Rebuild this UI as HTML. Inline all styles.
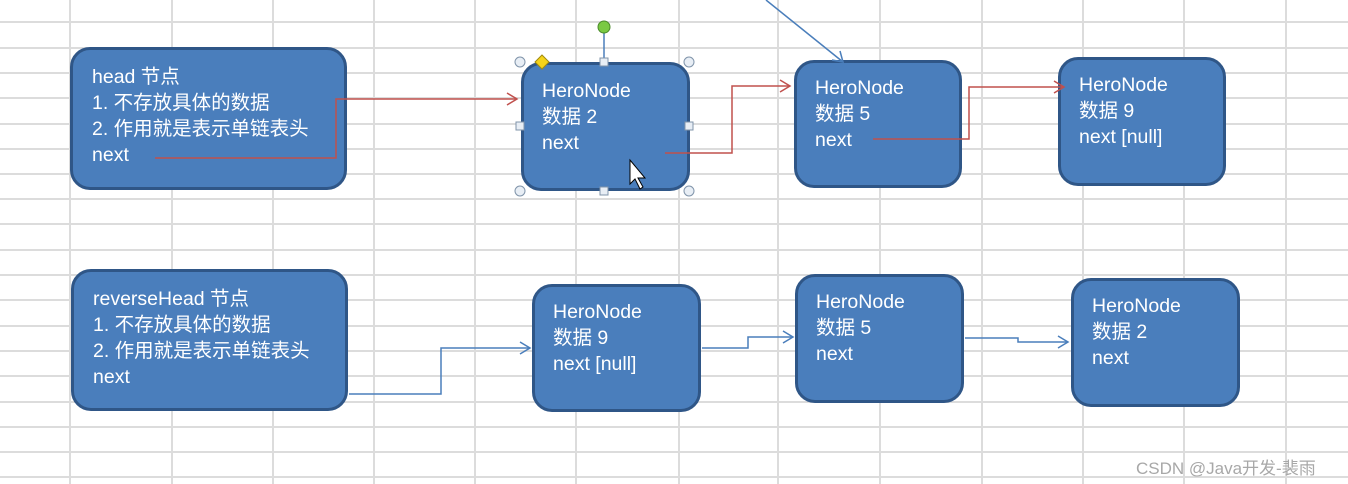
<!DOCTYPE html>
<html><head><meta charset="utf-8"><style>
html,body{margin:0;padding:0;background:#fff;}
body{width:1348px;height:484px;position:relative;overflow:hidden;font-family:"Liberation Sans","Noto Sans CJK SC",sans-serif;}
.box{position:absolute;background:#4a7ebc;border:3px solid #2f5687;border-radius:20px;box-sizing:border-box;color:#fff;font-size:19.5px;line-height:26px;}
.wm{position:absolute;left:1136px;top:454px;color:#a8a8a8;font-size:17px;}
</style></head><body>
<svg width="1348" height="484" style="position:absolute;left:0;top:0">
<g stroke="#dcdcdc" stroke-width="2">
<line x1="70" y1="0" x2="70" y2="484"/><line x1="172" y1="0" x2="172" y2="484"/><line x1="273" y1="0" x2="273" y2="484"/><line x1="374" y1="0" x2="374" y2="484"/><line x1="475" y1="0" x2="475" y2="484"/><line x1="576" y1="0" x2="576" y2="484"/><line x1="679" y1="0" x2="679" y2="484"/><line x1="778" y1="0" x2="778" y2="484"/><line x1="880" y1="0" x2="880" y2="484"/><line x1="982" y1="0" x2="982" y2="484"/><line x1="1083" y1="0" x2="1083" y2="484"/><line x1="1184" y1="0" x2="1184" y2="484"/><line x1="1286" y1="0" x2="1286" y2="484"/>
<line x1="0" y1="22" x2="1348" y2="22"/><line x1="0" y1="48" x2="1348" y2="48"/><line x1="0" y1="73" x2="1348" y2="73"/><line x1="0" y1="98" x2="1348" y2="98"/><line x1="0" y1="124" x2="1348" y2="124"/><line x1="0" y1="149" x2="1348" y2="149"/><line x1="0" y1="174" x2="1348" y2="174"/><line x1="0" y1="199" x2="1348" y2="199"/><line x1="0" y1="224" x2="1348" y2="224"/><line x1="0" y1="250" x2="1348" y2="250"/><line x1="0" y1="275" x2="1348" y2="275"/><line x1="0" y1="300" x2="1348" y2="300"/><line x1="0" y1="326" x2="1348" y2="326"/><line x1="0" y1="351" x2="1348" y2="351"/><line x1="0" y1="376" x2="1348" y2="376"/><line x1="0" y1="402" x2="1348" y2="402"/><line x1="0" y1="427" x2="1348" y2="427"/><line x1="0" y1="452" x2="1348" y2="452"/><line x1="0" y1="477" x2="1348" y2="477"/>
</g>
</svg>
<div class="box" style="left:70px;top:47px;width:277px;height:143px;padding:14px 0 0 19px">head 节点<br>1. 不存放具体的数据<br>2. 作用就是表示单链表头<br>next</div>
<div class="box" style="left:521px;top:62px;width:169px;height:129px;padding:13px 0 0 18px">HeroNode<br>数据 2<br>next</div>
<div class="box" style="left:794px;top:60px;width:168px;height:128px;padding:12px 0 0 18px">HeroNode<br>数据 5<br>next</div>
<div class="box" style="left:1058px;top:57px;width:168px;height:129px;padding:12px 0 0 18px">HeroNode<br>数据 9<br>next [null]</div>
<div class="box" style="left:71px;top:269px;width:277px;height:142px;padding:14px 0 0 19px">reverseHead 节点<br>1. 不存放具体的数据<br>2. 作用就是表示单链表头<br>next</div>
<div class="box" style="left:532px;top:284px;width:169px;height:128px;padding:12px 0 0 18px">HeroNode<br>数据 9<br>next [null]</div>
<div class="box" style="left:795px;top:274px;width:169px;height:129px;padding:12px 0 0 18px">HeroNode<br>数据 5<br>next</div>
<div class="box" style="left:1071px;top:278px;width:169px;height:129px;padding:12px 0 0 18px">HeroNode<br>数据 2<br>next</div>
<svg width="1348" height="484" style="position:absolute;left:0;top:0">
<g fill="none" stroke-width="1.5">
<polyline stroke="#c0504d" points="155,158 336,158 336,99 517,99"/>
<polyline stroke="#c0504d" points="507,93 517,99 507,105"/>
<polyline stroke="#c0504d" points="665,153 732,153 732,86 790,86"/>
<polyline stroke="#c0504d" points="780,80 790,86 780,92"/>
<polyline stroke="#c0504d" points="873,139 969,139 969,87 1064,87"/>
<polyline stroke="#c0504d" points="1054,81 1064,87 1054,93"/>
<line stroke="#4a7ebb" x1="766" y1="0" x2="843" y2="62"/>
<polyline stroke="#4a7ebb" points="832,60 843,62 840,51"/>
<polyline stroke="#4a7ebb" points="349,394 441,394 441,348 530,348"/>
<polyline stroke="#4a7ebb" points="520,342 530,348 520,354"/>
<polyline stroke="#4a7ebb" points="702,348 748,348 748,337 793,337"/>
<polyline stroke="#4a7ebb" points="783,331 793,337 783,343"/>
<polyline stroke="#4a7ebb" points="965,338 1018,338 1018,342 1068,342"/>
<polyline stroke="#4a7ebb" points="1058,336 1068,342 1058,348"/>
<line stroke="#4a7ebb" x1="604" y1="30" x2="604" y2="60"/>
</g>
<g fill="#e8eef5" stroke="#8094aa" stroke-width="1">
<circle cx="520" cy="62" r="5"/><circle cx="689" cy="62" r="5"/><circle cx="520" cy="191" r="5"/><circle cx="689" cy="191" r="5"/>
<rect x="600" y="58" width="8" height="8"/><rect x="516" y="122" width="8" height="8"/><rect x="685" y="122" width="8" height="8"/><rect x="600" y="187" width="8" height="8"/>
</g>
<circle cx="604" cy="27" r="6" fill="#7ac943" stroke="#4a8a2a"/>
<polygon points="542,55 549,62 542,69 535,62" fill="#f5d31a" stroke="#a08a10"/>
<polygon points="630,160 630,184 635,179 640,189 643,187 638,178 645,178" fill="#fff" stroke="#000"/>
</svg>
<div class="wm">CSDN @Java开发-裴雨</div>
</body></html>
